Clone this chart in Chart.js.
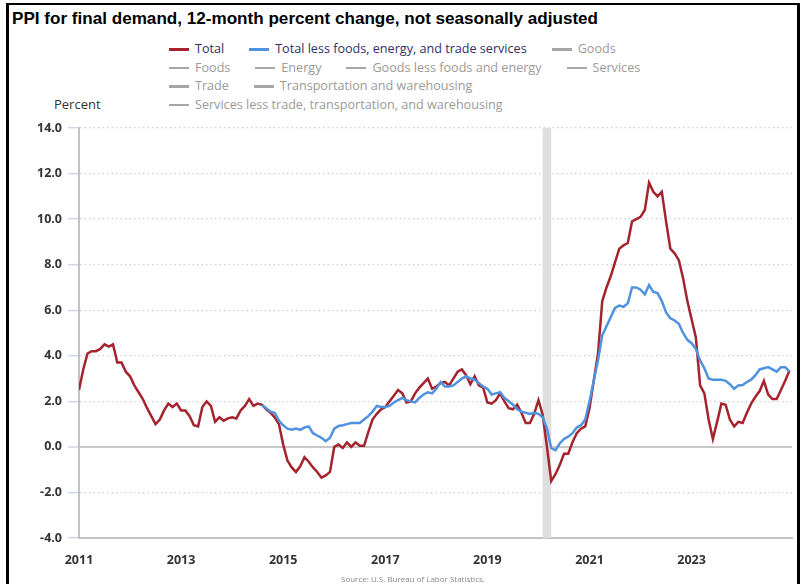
<!DOCTYPE html>
<html>
<head>
<meta charset="utf-8">
<script src="https://cdn.jsdelivr.net/npm/chart.js@4.4.1/dist/chart.umd.min.js"></script>
<style>
  body { margin: 0; width: 807px; height: 584px; overflow: hidden; position: relative; background: #fff; }
  #frame { position: absolute; left: 6px; top: 3px; width: 788px; height: 600px; border: 3px solid #000; border-top-width: 2px; border-bottom: none; }
  #title { position: absolute; left: 12px; top: 9px; font: bold 17.1px "Liberation Sans", Arial, sans-serif; color: #000; white-space: nowrap; }
  #legend { position: absolute; left: 169px; top: 40px; width: 510px; display: flex; flex-wrap: wrap; column-gap: 25px; font: 12.6px "Open Sans", sans-serif; line-height: 18.6px; }
  .item { display: flex; align-items: center; white-space: nowrap; }
  .dash { width: 20px; height: 2.5px; margin-right: 6px; }
  #unit { position: absolute; left: 54px; top: 95px; font: 13px "Open Sans", sans-serif; color: #333; }
  #source { position: absolute; left: 341px; top: 573px; font: 8px "Open Sans", sans-serif; color: #888; white-space: nowrap; }
  canvas { position: absolute; left: 0; top: 0; }
</style>
</head>
<body>
<div id="frame"></div>
<div id="title">PPI for final demand, 12-month percent change, not seasonally adjusted</div>
<div id="legend"></div>
<div id="unit">Percent</div>
<canvas id="chart" width="807" height="584"></canvas>
<div id="source">Source: U.S. Bureau of Labor Statistics.</div>
<script>
// monthly 12-month % change, Jan 2011 .. Dec 2024
const total = [
  2.5, 3.4, 4.1, 4.2, 4.2, 4.3, 4.5, 4.4, 4.5, 3.7, 3.7, 3.3,
  3.1, 2.7, 2.4, 2.1, 1.7, 1.35, 1.0, 1.2, 1.6, 1.9, 1.75, 1.9,
  1.6, 1.6, 1.35, 0.95, 0.9, 1.75, 2.0, 1.8, 1.1, 1.3, 1.15, 1.25,
  1.3, 1.25, 1.6, 1.8, 2.1, 1.8, 1.9, 1.85, 1.65, 1.5, 1.3, 1.0,
  0.1, -0.6, -0.9, -1.1, -0.85, -0.45, -0.65, -0.9, -1.1, -1.35, -1.25, -1.1,
  0.0, 0.1, -0.05, 0.2, 0.0, 0.2, 0.05, 0.05, 0.65, 1.2, 1.45, 1.65,
  1.75, 2.0, 2.25, 2.5, 2.35, 1.95, 2.0, 2.35, 2.6, 2.8, 3.0, 2.55,
  2.65, 2.8, 2.85, 2.7, 3.0, 3.3, 3.4, 3.15, 2.75, 3.1, 2.7, 2.6,
  1.95, 1.9, 2.05, 2.35, 2.0, 1.7, 1.65, 1.85, 1.5, 1.05, 1.05, 1.45,
  2.05, 1.4, 0.0, -1.5, -1.2, -0.8, -0.3, -0.3, 0.2, 0.6, 0.8, 0.9,
  1.7, 2.9, 4.1, 6.4, 7.0, 7.5, 8.1, 8.7, 8.85, 8.95, 9.9, 10.0,
  10.1, 10.4, 11.6, 11.2, 11.0, 11.2, 9.9, 8.7, 8.5, 8.2, 7.4, 6.4,
  5.6, 4.8, 2.7, 2.35, 1.2, 0.35, 1.1, 1.9, 1.85, 1.2, 0.9, 1.1,
  1.05, 1.5, 1.9, 2.2, 2.45, 2.9, 2.3, 2.1, 2.1, 2.5, 2.9, 3.35
];
// Total less foods, energy, and trade services, Aug 2014 .. Dec 2024
const coreStart = 43; // months after Jan 2011
const core = [
  1.85, 1.7, 1.55, 1.5, 1.15,
  0.95, 0.8, 0.75, 0.8, 0.75, 0.85, 0.9, 0.6, 0.5, 0.4, 0.25, 0.4,
  0.8, 0.92, 0.95, 1.0, 1.05, 1.05, 1.05, 1.2, 1.35, 1.55, 1.8, 1.75,
  1.75, 1.8, 1.95, 2.05, 2.15, 2.05, 2.0, 1.95, 2.15, 2.3, 2.4, 2.35,
  2.55, 2.85, 2.65, 2.65, 2.7, 2.85, 3.0, 3.1, 3.0, 2.95, 2.8, 2.65,
  2.55, 2.3, 2.35, 2.4, 2.15, 2.0, 1.85, 1.65, 1.55, 1.5, 1.45, 1.5,
  1.45, 1.3, 0.8, -0.05, -0.15, 0.15, 0.35, 0.45, 0.6, 0.85, 0.95, 1.2,
  2.0, 2.9, 3.8, 4.9, 5.3, 5.7, 6.1, 6.2, 6.15, 6.3, 7.0, 7.0,
  6.9, 6.7, 7.1, 6.8, 6.75, 6.4, 5.9, 5.65, 5.55, 5.4, 5.0, 4.7,
  4.55, 4.3, 3.8, 3.45, 3.0, 2.95, 2.95, 2.95, 2.9, 2.75, 2.55, 2.7,
  2.72, 2.85, 2.95, 3.15, 3.4, 3.45, 3.5, 3.4, 3.3, 3.5, 3.5, 3.3
];
const tickYears = [2011, 2013, 2015, 2017, 2019, 2021, 2023];
const recession = [109, 111]; // Feb 2020 .. Apr 2020

const seriesNames = [
  "Total", "Total less foods, energy, and trade services", "Goods",
  "Foods", "Energy", "Goods less foods and energy", "Services",
  "Trade", "Transportation and warehousing",
  "Services less trade, transportation, and warehousing"
];

const red = "#a5232d";
const blue = "#4f93e0";

// legend: only the first two series are shown, the rest are switched off
const legend = document.getElementById("legend");
seriesNames.forEach((name, i) => {
  const on = i < 2;
  const dashColor = i === 0 ? red : i === 1 ? blue : "#a6a6a6";
  legend.insertAdjacentHTML("beforeend",
    `<div class="item"><span class="dash" style="background:${dashColor}"></span><span style="color:${on ? "#2f2f6b" : "#9a9a9a"}">${name}</span></div>`);
});

const recessionBand = {
  id: "recessionBand",
  beforeDatasetsDraw(chart) {
    const { ctx, chartArea, scales } = chart;
    const x1 = scales.x.getPixelForValue(recession[0]);
    const x2 = scales.x.getPixelForValue(recession[1]);
    ctx.save();
    ctx.fillStyle = "#dedede";
    ctx.fillRect(x1, chartArea.top, x2 - x1, chartArea.bottom - chartArea.top);
    ctx.restore();
  },
};

const tickFont = { family: "Open Sans", size: 12.5, weight: "bold" };

new Chart(document.getElementById("chart"), {
  type: "line",
  data: {
    datasets: [
      {
        label: seriesNames[0],
        data: total.map((v, i) => ({ x: i, y: v })),
        borderColor: red,
        borderWidth: 2.5,
        pointRadius: 0,
        order: 1,
      },
      {
        label: seriesNames[1],
        data: core.map((v, i) => ({ x: coreStart + i, y: v })),
        borderColor: blue,
        borderWidth: 2.5,
        pointRadius: 0,
        order: 0,
      },
    ],
  },
  options: {
    responsive: false,
    animation: false,
    layout: { padding: { top: 128, right: 15, bottom: 0, left: 0 } },
    plugins: { legend: { display: false }, tooltip: { enabled: false } },
    scales: {
      x: {
        type: "linear",
        min: 0,
        max: 167.6,
        afterBuildTicks: (s) => {
          s.ticks = tickYears.map((y) => ({ value: (y - 2011) * 12 }));
        },
        afterFit: (s) => { s.height = 46; },
        ticks: {
          callback: (v) => String(2011 + v / 12),
          font: tickFont,
          color: "#333",
          padding: 7,
          maxRotation: 0,
          autoSkip: false,
        },
        grid: { display: false },
        border: { display: true, color: "#c2c2c2", width: 2 },
      },
      y: {
        min: -4,
        max: 14,
        afterFit: (s) => { s.width = 79; },
        ticks: {
          stepSize: 2,
          callback: (v) => v.toFixed(1),
          font: tickFont,
          color: "#333",
          padding: 6,
        },
        grid: {
          color: (c) => (c.tick && c.tick.value === 0 ? "#c8c8c8" : "#cfcfcf"),
          lineWidth: (c) => (c.tick && c.tick.value === 0 ? 2 : 1.3),
          tickColor: "#ccd6eb",
          tickLength: 11,
          tickWidth: 1.5,
        },
        border: {
          display: true,
          color: "#c2c2c2",
          width: 2,
          dash: (c) => (c.tick && c.tick.value === 0 ? [] : [1.5, 3]),
        },
      },
    },
  },
  plugins: [recessionBand],
});
</script>
</body>
</html>
